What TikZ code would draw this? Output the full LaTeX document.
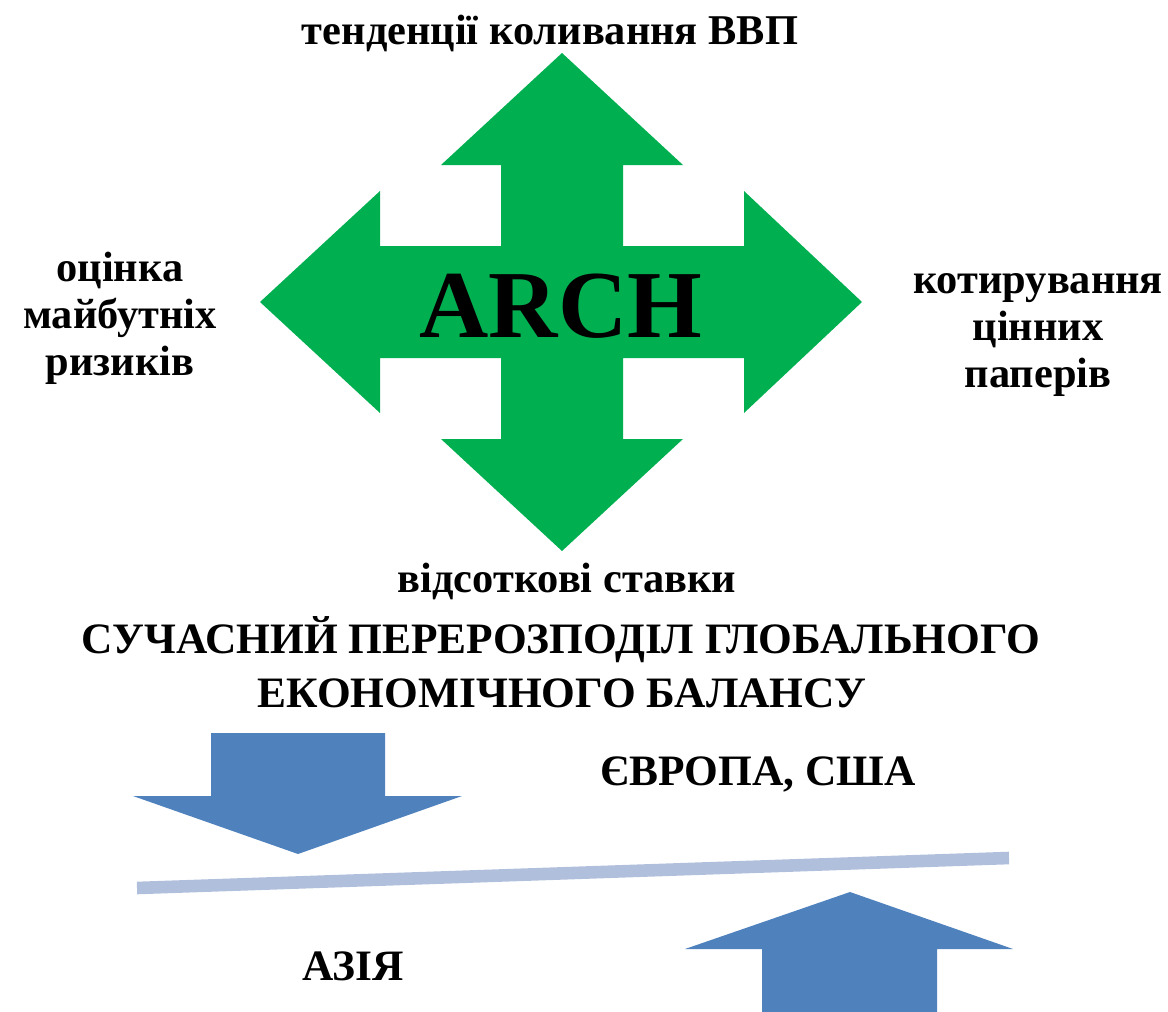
\documentclass[tikz,border=0pt]{standalone}
\usepackage{fontspec}
\setmainfont{Liberation Serif}
\usetikzlibrary{positioning}
\definecolor{crossgreen}{RGB}{0,176,80}
\definecolor{arrowblue}{RGB}{79,129,189}
\definecolor{barblue}{RGB}{176,192,220}

\begin{document}
\begin{tikzpicture}[x=0.5pt, y=-0.5pt,
  lbl/.style={font=\bfseries\fontsize{21.2}{23.5}\selectfont, align=center, inner sep=0pt},
  head/.style={font=\bfseries\fontsize{21.7}{27}\selectfont, align=center, inner sep=0pt},
  bigarrow/.style={fill=arrowblue, draw=none}]
  \useasboundingbox (0,0) rectangle (1168,1012);

  \fill[crossgreen] (562,53) -- (683,165) -- (623,165) -- (623,246) -- (744,246) -- (744,191)
    -- (862,302) -- (744,413) -- (744,358) -- (623,358) -- (623,439) -- (683,439)
    -- (562,551) -- (441,439) -- (501,439) -- (501,358) -- (380,358) -- (380,413)
    -- (260,302) -- (380,191) -- (380,246) -- (501,246) -- (501,165) -- (441,165) -- cycle;
  \node[font=\bfseries\fontsize{48}{48}\selectfont, inner sep=0pt, anchor=base] (arch) at (561,337) {ARCH};

  \node[lbl, anchor=base] (gdp) at (550,45) {тенденції коливання ВВП};
  \node[lbl] (risk) at (120,318) {оцінка\\майбутніх\\ризиків};
  \node[lbl] (quote) at (1038,335) {котирування\\цінних\\паперів};
  \node[lbl, anchor=base] (rate) at (567,592) {відсоткові ставки};

  \node[head, anchor=base] (title1) at (561,653) {СУЧАСНИЙ ПЕРЕРОЗПОДІЛ ГЛОБАЛЬНОГО};
  \node[head, anchor=base] (title2) at (562,707) {ЕКОНОМІЧНОГО БАЛАНСУ};

  \fill[bigarrow] (211,733) -- (385,733) -- (385,796) -- (462,796) -- (298,854) -- (133,796) -- (211,796) -- cycle;
  \fill[bigarrow] (762,1012) -- (762,949) -- (685,949) -- (850,892) -- (1013,949) -- (937,949) -- (937,1012) -- cycle;
  \coordinate (bl) at (137,888);
  \coordinate (br) at (1009,858);
  \draw[barblue, line width=6.3pt] (bl) -- (br);

  \node[head, anchor=base] (west) at (758,785) {ЄВРОПА, США};
  \node[head, anchor=base] (asia) at (353,980) {АЗІЯ};
\end{tikzpicture}
\end{document}
